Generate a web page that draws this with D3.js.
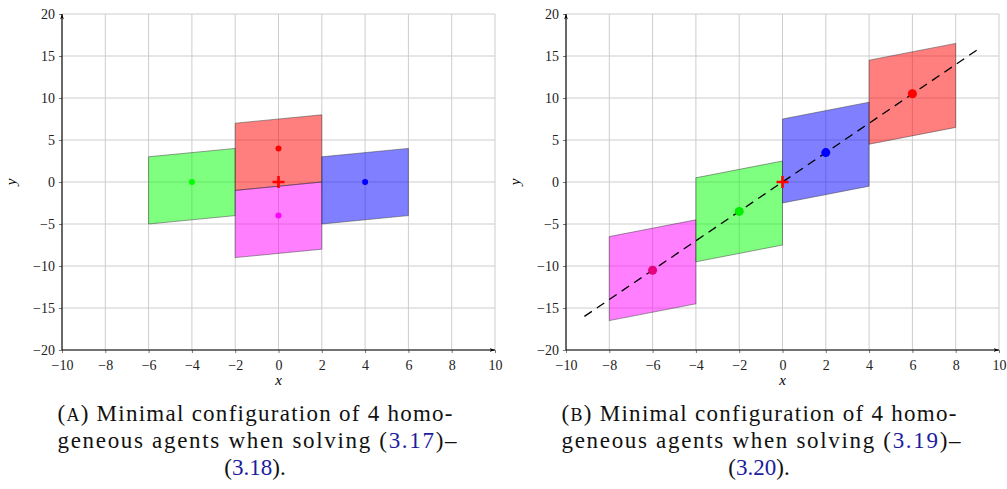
<!DOCTYPE html>
<html>
<head>
<meta charset="utf-8">
<script src="https://cdn.jsdelivr.net/npm/d3@7/dist/d3.min.js"></script>
<style>
  html, body { margin: 0; padding: 0; background: #fff; }
  svg { display: block; }
  svg text { font-family: "Liberation Serif", "DejaVu Serif", "Noto Serif", "Tinos", "Times New Roman", "Times", "FreeSerif", "Nimbus Roman", "Latin Modern Roman", "CMU Serif", serif !important; }
</style>
</head>
<body>
<svg id="fig" width="1007" height="489"></svg>
<script>
// ---- data ----------------------------------------------------------
const xTicks = [-10, -8, -6, -4, -2, 0, 2, 4, 6, 8, 10];
const yTicks = [-20, -15, -10, -5, 0, 5, 10, 15, 20];

// panel A: agent centres
const agentsA = [
  { name: "green",   cx: -4, cy: 0 },
  { name: "red",     cx: 0,  cy: 4 },
  { name: "magenta", cx: 0,  cy: -4 },
  { name: "blue",    cx: 4,  cy: 0 }
];
// region of each agent: half-width, and [bottom, top] of its left and right edges relative to the centre
const halfWidthA = 2;
const leftEdgeA = [-5, 3];
const rightEdgeA = [-4, 4];

// panel B
const agentsB = [
  { name: "magenta", cx: -6, cy: -10.5 },
  { name: "green",   cx: -2, cy: -3.5 },
  { name: "blue",    cx: 2,  cy: 3.5 },
  { name: "red",     cx: 6,  cy: 10.5 }
];
const halfWidthB = 2;
const leftEdgeB = [-6, 4];
const rightEdgeB = [-4, 6];
const lineB = [[-9.15, -16.0], [9.15, 16.0]];

const origin = [0, 0];

const captionA = ["Minimal configuration of 4 homo-", "geneous agents when solving ", "3.17", "3.18"];
const captionB = ["Minimal configuration of 4 homo-", "geneous agents when solving ", "3.19", "3.20"];

// ---- styles --------------------------------------------------------
const fillCol = { green: "#00ff00", red: "#ff0000", magenta: "#ff00ff", blue: "#0000ff" };
const dotColB = { green: "#00ee00", red: "#ff0000", magenta: "#e6007e", blue: "#0000ff" };
const refBlue = "#1c1ca0";

const svg = d3.select("#fig");
const defs = svg.append("defs");
defs.append("marker")
  .attr("id", "arrow").attr("viewBox", "0 0 10 10")
  .attr("refX", 10).attr("refY", 5)
  .attr("markerWidth", 5).attr("markerHeight", 5)
  .attr("orient", "auto")
  .append("path").attr("d", "M0,1.5 L10,5 L0,8.5 L3,5 Z").attr("fill", "#000");

function panel(x0, x1, agents, hw, le, re, dotR, dotCol, dashLine, labelX) {
  const x = d3.scaleLinear().domain([-10, 10]).range([x0, x1]);
  const y = d3.scaleLinear().domain([-20, 20]).range([350, 14]);
  const g = svg.append("g");

  // grid
  g.append("g").selectAll("line").data(xTicks).join("line")
    .attr("x1", d => x(d)).attr("x2", d => x(d))
    .attr("y1", y(-20)).attr("y2", y(20))
    .attr("stroke", "#cdcdcd").attr("stroke-width", 1);
  g.append("g").selectAll("line").data(yTicks).join("line")
    .attr("x1", x(-10)).attr("x2", x(10))
    .attr("y1", d => y(d)).attr("y2", d => y(d))
    .attr("stroke", "#cdcdcd").attr("stroke-width", 1);

  // axes
  const fmt = d => d < 0 ? "\u2212" + Math.abs(d) : d;
  const xAxis = d3.axisBottom(x).tickValues(xTicks).tickSize(3).tickPadding(4).tickFormat(fmt);
  const yAxis = d3.axisLeft(y).tickValues(yTicks).tickSize(3).tickPadding(4).tickFormat(fmt);
  const gx = g.append("g").attr("transform", `translate(0,${y(-20)})`).call(xAxis);
  const gy = g.append("g").attr("transform", `translate(${x(-10)},0)`).call(yAxis);
  [gx, gy].forEach(a => {
    a.select(".domain").remove();
    a.selectAll(".tick line").attr("stroke", "#777");
    a.selectAll("text").attr("font-size", 14).attr("fill", "#222");
  });
  gx.selectAll("text").attr("dy", "0.95em");

  // agent regions
  const poly = a => [
    [a.cx - hw, a.cy + le[1]],
    [a.cx + hw, a.cy + re[1]],
    [a.cx + hw, a.cy + re[0]],
    [a.cx - hw, a.cy + le[0]]
  ].map(p => [x(p[0]), y(p[1])]);
  g.append("g").selectAll("path").data(agents).join("path")
    .attr("d", a => "M" + poly(a).join("L") + "Z")
    .attr("fill", a => fillCol[a.name]).attr("fill-opacity", 0.5)
    .attr("stroke", "#333").attr("stroke-opacity", 0.6).attr("stroke-width", 0.8);

  // axis lines with arrow heads
  g.append("line").attr("x1", x(-10)).attr("x2", x(10)).attr("y1", y(-20)).attr("y2", y(-20))
    .attr("stroke", "#000").attr("stroke-width", 1.1).attr("marker-end", "url(#arrow)");
  g.append("line").attr("x1", x(-10)).attr("x2", x(-10)).attr("y1", y(-20)).attr("y2", y(20))
    .attr("stroke", "#000").attr("stroke-width", 1.1).attr("marker-end", "url(#arrow)");

  // consensus line
  if (dashLine) {
    g.append("path")
      .attr("d", d3.line().x(d => x(d[0])).y(d => y(d[1]))(dashLine))
      .attr("fill", "none").attr("stroke", "#000").attr("stroke-width", 1.3)
      .attr("stroke-dasharray", "9,6");
  }

  // agent positions
  g.append("g").selectAll("circle").data(agents).join("circle")
    .attr("cx", a => x(a.cx)).attr("cy", a => y(a.cy)).attr("r", dotR)
    .attr("fill", a => dotCol[a.name]);

  // origin marker
  const s = 6;
  g.append("path")
    .attr("d", `M${x(origin[0]) - s},${y(origin[1])}H${x(origin[0]) + s}M${x(origin[0])},${y(origin[1]) - s}V${y(origin[1]) + s}`)
    .attr("stroke", "#ff0000").attr("stroke-width", 2.6);

  // axis titles
  g.append("text").attr("x", x(0)).attr("y", 385).attr("text-anchor", "middle")
    .attr("font-style", "italic").attr("font-size", 15).text("x");
  g.append("text").attr("transform", `translate(${labelX},${y(0)}) rotate(-90)`)
    .attr("text-anchor", "middle").attr("font-style", "italic").attr("font-size", 15).text("y");
  return x;
}

panel(62, 495, agentsA, halfWidthA, leftEdgeA, rightEdgeA, 3, fillCol, null, 16);
panel(566, 999, agentsB, halfWidthB, leftEdgeB, rightEdgeB, 4.5, dotColB, lineB, 520);

// captions
function caption(cx, letter, lines) {
  const w = 395, fs = 23;
  const c = svg.append("g").attr("font-size", fs).attr("fill", "#111");
  const t1 = c.append("text").attr("x", cx - w / 2).attr("y", 421)
    .attr("textLength", w).attr("lengthAdjust", "spacing");
  t1.append("tspan").text("(");
  t1.append("tspan").attr("font-size", fs * 0.78).text(letter);
  t1.append("tspan").text(") " + lines[0]);
  const t2 = c.append("text").attr("x", cx - w / 2).attr("y", 448)
    .attr("textLength", w + 4).attr("lengthAdjust", "spacing");
  t2.append("tspan").text(lines[1] + "(");
  t2.append("tspan").attr("fill", refBlue).text(lines[2]);
  t2.append("tspan").text(")\u2013");
  const t3 = c.append("text").attr("x", cx).attr("y", 475).attr("text-anchor", "middle");
  t3.append("tspan").text("(");
  t3.append("tspan").attr("fill", refBlue).text(lines[3]);
  t3.append("tspan").text(").");
}
caption(255, "A", captionA);
caption(759, "B", captionB);
</script>
</body>
</html>
